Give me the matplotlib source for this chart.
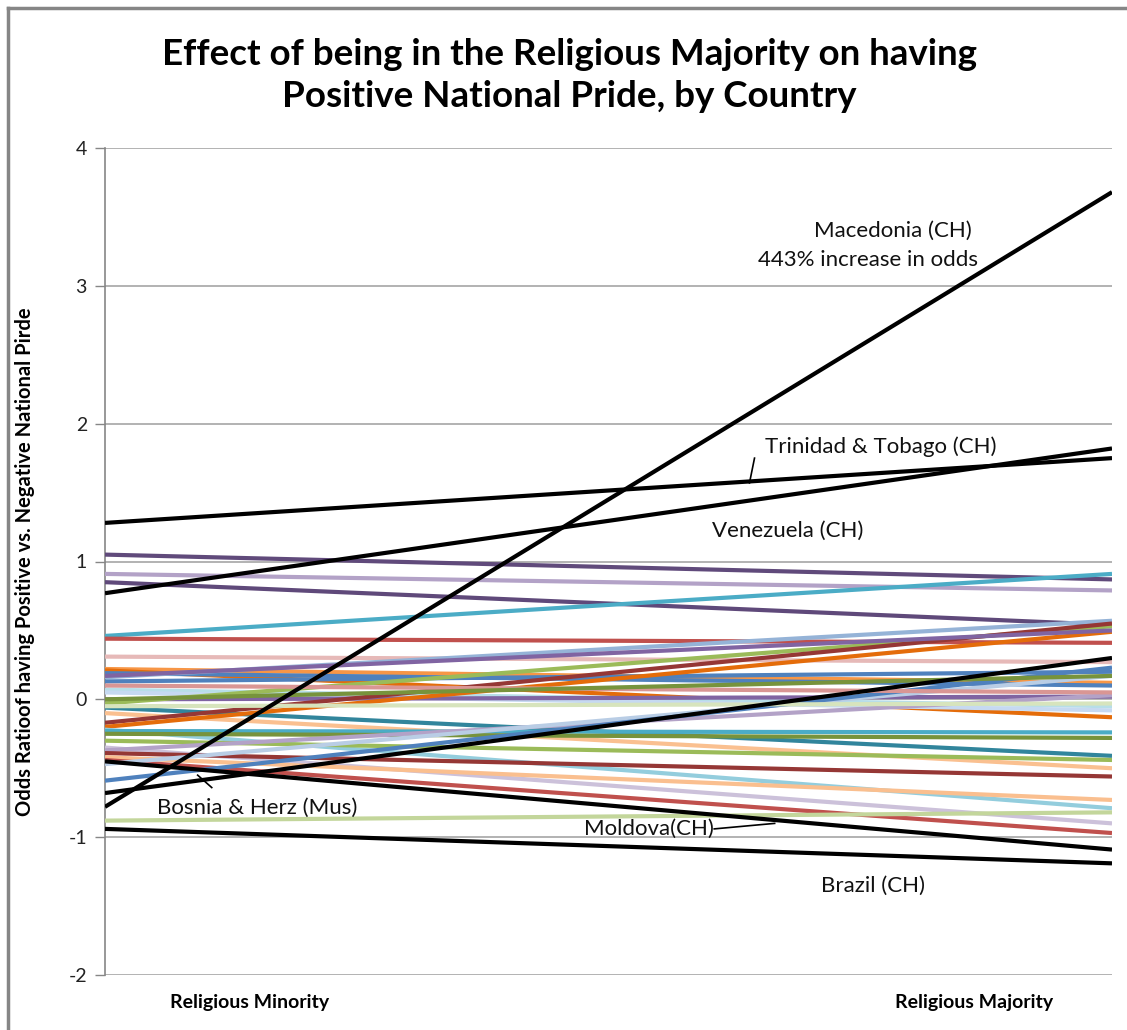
import matplotlib
matplotlib.use("Agg")
import matplotlib.pyplot as plt
from matplotlib.lines import Line2D

# Category axis
categories = ["Religious Minority", "Religious Majority"]
y_ticks = [-2, -1, 0, 1, 2, 3, 4]

# Log-odds for each country: minority value, majority value
minority = [-0.78, 1.28, 0.77, -0.94, -0.45, -0.68,
            1.05, 0.91, 0.85, 0.46, 0.44, 0.31, 0.22, 0.21, 0.19, 0.16,
            0.13, 0.07, 0.05, 0.00, -0.03, -0.06, -0.10, -0.17, -0.20,
            -0.22, -0.23, -0.25, -0.30, -0.35, -0.37, -0.39, -0.42, -0.44,
            -0.47, -0.59, -0.88, 0.17, 0.10, -0.05, 0.00]
majority = [3.68, 1.75, 1.82, -1.19, -1.09, 0.30,
            0.87, 0.79, 0.54, 0.91, 0.41, 0.27, 0.12, -0.13, 0.10, 0.57,
            0.20, -0.05, -0.08, 0.02, 0.53, -0.41, -0.50, 0.55, 0.49,
            -0.79, -0.24, -0.28, -0.44, -0.90, 0.03, -0.56, -0.73, -0.97,
            0.17, 0.23, -0.82, 0.50, 0.05, -0.03, 0.17]
line_colors = ["#000000", "#000000", "#000000", "#000000", "#000000", "#000000",
               "#604A7B", "#B3A2C7", "#5F497A", "#4BACC6", "#C0504D", "#E6B9B8",
               "#F79646", "#E46C0A", "#4F81BD", "#95B3D7", "#4F81BD", "#B7DEE8",
               "#C6D9F1", "#8064A2", "#9BBB59", "#31859C", "#FAC090", "#953735",
               "#E46C0A", "#93CDDD", "#4BACC6", "#77933C", "#9BBB59", "#CCC1DA",
               "#B3A2C7", "#953735", "#FABF8F", "#C0504D", "#B9CDE5", "#4F81BD",
               "#C3D69B", "#8064A2", "#D99694", "#D7E4BD", "#77933C"]

# Labelled countries: text, x (data), y (data), alignment
labels = [
    ("Macedonia (CH)", 0.782, 3.40, "center"),
    ("443% increase in odds", 0.758, 3.19, "center"),
    ("Trinidad & Tobago (CH)", 0.655, 1.83, "left"),
    ("Venezuela (CH)", 0.603, 1.22, "left"),
    ("Bosnia & Herz (Mus)", 0.052, -0.79, "left"),
    ("Moldova(CH)", 0.476, -0.94, "left"),
    ("Brazil (CH)", 0.711, -1.35, "left"),
]
# Leader lines: (x0, y0, x1, y1) in data units
leaders = [
    (0.640, 1.57, 0.645, 1.75),
    (0.106, -0.64, 0.092, -0.55),
    (0.605, -0.94, 0.665, -0.90),
]

fig = plt.figure(figsize=(11.27, 10.30), dpi=100)
plt.rcParams["font.family"] = ["Lato", "DejaVu Sans"]

ax = fig.add_axes([105 / 1127, 1 - 975 / 1030, (1112 - 105) / 1127, (975 - 148) / 1030])

# Draw coloured lines first, black labelled lines on top
order = [i for i in range(len(minority)) if line_colors[i] != "#000000"] + \
        [i for i in range(len(minority)) if line_colors[i] == "#000000"]
for i in order:
    ax.plot([0, 1], [minority[i], majority[i]], color=line_colors[i],
            lw=3.0, solid_capstyle="butt", zorder=3)

ax.set_xlim(0, 1)
ax.set_ylim(-2, 4)
ax.set_yticks(y_ticks)
ax.set_yticklabels([str(v) for v in y_ticks], fontsize=14, color="#222222")
ax.tick_params(axis="y", length=7, width=1, color="#868686", pad=6)
ax.set_xticks([])
ax.grid(axis="y", color="#A6A6A6", lw=1.2, zorder=0)
for s in ["top", "right", "bottom"]:
    ax.spines[s].set_visible(False)
ax.spines["left"].set_color("#868686")
ax.spines["left"].set_linewidth(1.2)

# Category labels under the plot
cat_x = [0.144, 0.863]
for cx, name in zip(cat_x, categories):
    ax.text(cx, -2.2, name, ha="center", va="center", fontsize=14,
            fontweight="bold", transform=ax.transData, clip_on=False)

ax.set_ylabel("Odds Ratioof having Positive vs. Negative National Pirde",
              fontsize=14.5, fontweight="bold", labelpad=24)

for text, x, y, ha in labels:
    ax.text(x, y, text, ha=ha, va="center", fontsize=16, color="#111111", zorder=5)
for x0, y0, x1, y1 in leaders:
    ax.plot([x0, x1], [y0, y1], color="#000000", lw=1.2, zorder=5)

fig.text(0.505, 0.927, "Effect of being in the Religious Majority on having\nPositive National Pride, by Country",
         ha="center", va="center", fontsize=26.5, fontweight="bold", linespacing=1.33)

# Outer chart frame (top and left edges)
fig.add_artist(Line2D([8 / 1127, 8 / 1127], [0, 1 - 8 / 1030], color="#868686", lw=2.5))
fig.add_artist(Line2D([8 / 1127, 1], [1 - 8 / 1030, 1 - 8 / 1030], color="#868686", lw=2.5))

fig.savefig("out.png", dpi=100)
